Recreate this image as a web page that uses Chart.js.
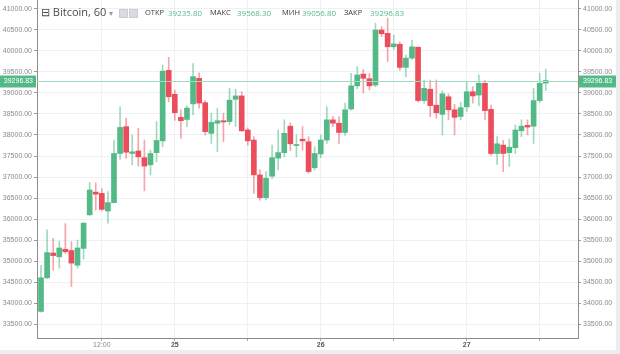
<!DOCTYPE html>
<html><head><meta charset="utf-8">
<script src="https://cdn.jsdelivr.net/npm/chart.js@4.4.1/dist/chart.umd.min.js"></script>
<style>
html,body{margin:0;padding:0;background:#eceef2;width:620px;height:354px;overflow:hidden}
#wrap{position:absolute;left:0;top:0;width:616px;height:350px;background:#fff}
#c{position:absolute;left:0;top:0}
.h{position:absolute;white-space:nowrap;font-family:"Open Sans","Liberation Sans",sans-serif;line-height:1}
.lbl{font-size:7.5px;color:#3a3a3a;top:9px}
.val{font-size:8px;color:#53b987;top:9px}
.ico{position:absolute;top:9px;width:7px;height:7px;background:#d9dbe0;border:1px solid #c9ccd2}
</style></head>
<body>
<div id="wrap">
<canvas id="c" width="616" height="350"></canvas>
<div class="h" style="left:41px;top:6px;font-size:11px;color:#4a4a4a">⊟ Bitcoin, 60 <span style="font-size:8px;color:#9a9a9a">▾</span></div>
<div class="ico" style="left:119px"></div>
<div class="ico" style="left:129px"></div>
<div class="h lbl" style="left:145px">ОТКР</div><div class="h val" style="left:168px">39235.80</div>
<div class="h lbl" style="left:210px">МАКС</div><div class="h val" style="left:237px">39568.30</div>
<div class="h lbl" style="left:282px">МИН</div><div class="h val" style="left:302px">39056.80</div>
<div class="h lbl" style="left:344px">ЗАКР</div><div class="h val" style="left:370px">39296.83</div>
</div>
<script>
// OHLC hourly candles, first candle = 24th 02:00
const open  = [33800,34600,35190,35100,35280,35250,34900,35300,36100,36640,36610,36190,36390,37560,38200,37560,37620,37460,37290,37580,37860,39540,38970,38420,38370,38740,39350,38770,38040,38280,38340,38320,38850,38930,38120,37880,37050,36510,37020,37450,37580,38210,37750,37900,37840,37220,37550,37880,38360,38280,38060,38620,39170,39450,39340,39190,40500,40420,40100,40160,39610,39830,40090,38820,39090,38710,38490,38910,38600,38440,38670,39030,38950,39230,38610,37560,37760,37580,37700,38100,38230,38210,38820,39235.8];
const high  = [34900,35740,35540,35470,35890,35460,35500,35920,36870,36860,36720,36650,37880,38670,38400,38000,38160,37880,37640,38320,39670,39850,39070,38600,38700,39700,39480,38820,38520,38640,38520,39110,39090,39030,38170,37960,37170,37130,37760,38120,38360,38290,38000,38200,37960,37720,38000,38670,38440,38440,38760,39470,39630,39560,39470,40660,40580,40780,40380,40220,39900,40260,40100,39310,39310,39310,39050,38980,38730,38780,39270,39150,39430,39300,38710,37960,37870,37900,38240,38360,38360,39110,39470,39568.3];
const low   = [33780,34580,34780,34830,35180,34390,34830,35050,36080,36210,36200,35900,36380,37420,37440,37290,37260,36670,37050,37360,37720,38790,38350,37920,38200,38480,38640,38000,37800,37600,37840,38240,38200,38080,37760,36610,36450,36460,36960,37170,37480,37630,37480,37640,37090,37170,37460,37800,38200,37800,37990,38590,39100,39000,39070,39150,40340,39750,40040,39540,39390,39800,38780,38760,38440,38400,38000,38360,38000,38360,38560,38760,38690,38360,37520,37300,37130,37250,37560,37960,38000,37800,38780,39056.8];
const close = [34600,35200,35130,35310,35220,34950,35310,35900,36690,36590,36230,36390,37560,38180,37590,37600,37480,37260,37560,37870,39520,38910,38530,38340,38640,39390,38760,38080,38300,38340,38310,38830,38930,38100,37860,37050,36510,36970,37460,37580,38040,37790,37770,37860,37130,37560,37880,38360,38280,38060,38600,39170,39430,39350,39170,40500,40410,40100,40170,39610,39830,40100,38820,39110,38700,38530,38980,38600,38420,38650,39030,38930,39230,38580,37560,37790,37560,37710,38120,38210,38190,38820,39230,39296.83];
const xTickIdx    = [10, 22, 34, 46, 58, 70, 82];
const xTickLabels = ['12:00', '25', '', '26', '', '27', ''];
const yTicks = [33500,34000,34500,35000,35500,36000,36500,37000,37500,38000,38500,39000,39500,40000,40500,41000];

const UP = '#53b987', DOWN = '#eb4d5c';
const UPW = 'rgba(83,185,135,0.55)', DOWNW = 'rgba(235,77,92,0.5)';
const isUp = open.map((o,i)=> close[i] >= o);
const bodies = open.map((o,i)=>({x:i, y:[Math.min(o,close[i]), Math.max(o,close[i])]}));
const wicks  = open.map((o,i)=>({x:i, y:[low[i], high[i]]}));

const lastClose = close[close.length-1];
const priceLine = {
  id:'priceLine',
  afterDatasetsDraw(chart){
    const ctx = chart.ctx, ys = chart.scales.y, ca = chart.chartArea;
    const y = Math.round(ys.getPixelForValue(lastClose)) + 0.5;
    ctx.save();
    ctx.strokeStyle = '#9fdcc0';
    ctx.lineWidth = 1;
    ctx.beginPath(); ctx.moveTo(ca.left, y); ctx.lineTo(ca.right, y); ctx.stroke();
    ctx.fillStyle = UP;
    ctx.fillRect(0, y-6, ca.left-1, 12);
    ctx.fillRect(ca.right+1, y-6, chart.width-ca.right-1, 12);
    ctx.fillStyle = '#fff';
    ctx.font = '7px "Liberation Sans", Arial, sans-serif';
    ctx.textBaseline = 'middle';
    ctx.textAlign = 'right';
    ctx.fillText(lastClose.toFixed(2), ca.left-4, y);
    ctx.textAlign = 'left';
    ctx.fillText(lastClose.toFixed(2), ca.right+5, y);
    ctx.restore();
  }
};

function noPad(s){ s.paddingTop = 0; s.paddingBottom = 0; s.paddingLeft = 0; s.paddingRight = 0; }
const tickFont = {family:'"Liberation Sans", Arial, sans-serif', size:7};
const dayFont  = {family:'"Liberation Sans", Arial, sans-serif', size:7, weight:'bold'};
new Chart(document.getElementById('c'), {
  type:'bar',
  data:{datasets:[
    {data:wicks, backgroundColor:isUp.map(u=>u?UPW:DOWNW), barThickness:1, grouped:false, order:2},
    {data:bodies, backgroundColor:isUp.map(u=>u?UP:DOWN), barThickness:5, grouped:false, minBarLength:1, order:1}
  ]},
  options:{
    responsive:false, animation:false, devicePixelRatio:1,
    layout:{padding:0},
    plugins:{legend:{display:false}, tooltip:{enabled:false}},
    scales:{
      x:{type:'linear', position:'bottom', min:-0.66, max:88.3, offset:false,
         afterBuildTicks(s){ s.ticks = xTickIdx.map(v=>({value:v})); },
         afterFit(s){ s.height = 12; noPad(s); },
         ticks:{autoSkip:false, maxRotation:0, padding:0,
                color:(c)=> (c.tick && c.tick.value===10) ? '#8a8a8a' : '#555',
                font:(c)=> (c.tick && c.tick.value===10) ? tickFont : dayFont,
                callback(v){ const k = xTickIdx.indexOf(v); return k>=0 ? xTickLabels[k] : ''; }},
         grid:{color:'#eef0f3', tickColor:'#aaa', tickLength:3, offset:false},
         border:{color:'#8c8c8c'}},
      y:{type:'linear', position:'left', min:33167, max:41214,
         afterBuildTicks(s){ s.ticks = yTicks.map(v=>({value:v})); },
         afterFit(s){ s.width = 37; noPad(s); },
         ticks:{padding:2, color:'#8a8a8a', font:tickFont, callback:v=>Number(v).toFixed(2)},
         grid:{color:'#eef0f3', tickColor:'#999', tickLength:3},
         border:{color:'#8c8c8c'}},
      y2:{type:'linear', position:'right', min:33167, max:41214,
         afterBuildTicks(s){ s.ticks = yTicks.map(v=>({value:v})); },
         afterFit(s){ s.width = 38; noPad(s); },
         ticks:{padding:2, color:'#8a8a8a', font:tickFont, callback:v=>Number(v).toFixed(2)},
         grid:{drawOnChartArea:false, tickColor:'#999', tickLength:3},
         border:{color:'#8c8c8c'}}
    }
  },
  plugins:[priceLine]
});
</script>
</body></html>
